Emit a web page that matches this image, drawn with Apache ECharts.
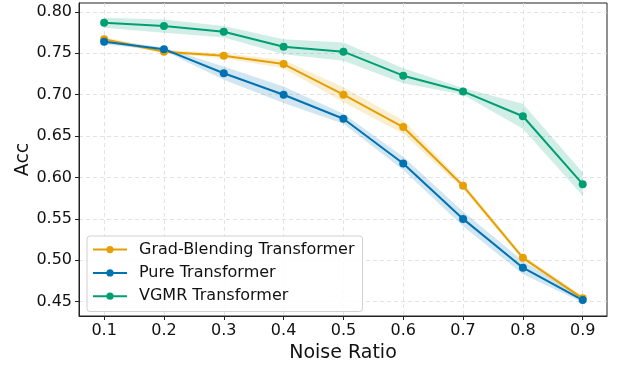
<!DOCTYPE html>
<html>
<head>
<meta charset="utf-8">
<script src="https://cdn.jsdelivr.net/npm/echarts@6/dist/echarts.min.js"></script>
<style>
  html, body { margin: 0; padding: 0; background: #fff; }
  #chart { width: 618px; height: 368px; }
</style>
</head>
<body>
<div id="chart"></div>
<script>
const noiseRatio = [0.1, 0.2, 0.3, 0.4, 0.5, 0.6, 0.7, 0.8, 0.9];
const xTicks = [0.1, 0.2, 0.3, 0.4, 0.5, 0.6, 0.7, 0.8, 0.9];
const yTicks = [0.45, 0.50, 0.55, 0.60, 0.65, 0.70, 0.75, 0.80];

const gradBlending = [0.767, 0.752, 0.747, 0.737, 0.700, 0.661, 0.590, 0.503, 0.454];
const gradBlendingStd = [0.003, 0.002, 0.003, 0.005, 0.009, 0.008, 0.004, 0.003, 0.003];
const pureTrans = [0.764, 0.755, 0.726, 0.700, 0.671, 0.617, 0.550, 0.491, 0.452];
const pureTransStd = [0.003, 0.002, 0.008, 0.010, 0.006, 0.008, 0.009, 0.008, 0.003];
const vgmrTrans = [0.787, 0.783, 0.776, 0.758, 0.752, 0.723, 0.704, 0.674, 0.592];
const vgmrTransStd = [0.006, 0.008, 0.007, 0.009, 0.011, 0.009, 0.004, 0.015, 0.014];

const fontFamily = 'DejaVu Sans';
const orange = '#E69F00';
const blue = '#0072B2';
const green = '#009E73';

var chart = echarts.init(document.getElementById('chart'));

function bandSeries(mean, std, color) {
  return {
    type: 'custom',
    silent: true,
    z: 1,
    data: [0],
    renderItem: function (params, api) {
      const pts = [];
      for (let i = 0; i < noiseRatio.length; i++) {
        pts.push(api.coord([noiseRatio[i], mean[i] + std[i]]));
      }
      for (let i = noiseRatio.length - 1; i >= 0; i--) {
        pts.push(api.coord([noiseRatio[i], mean[i] - std[i]]));
      }
      return {
        type: 'polygon',
        shape: { points: pts },
        style: { fill: color, opacity: 0.18 }
      };
    }
  };
}

function lineSeries(name, mean, color) {
  return {
    name: name,
    type: 'line',
    z: 3,
    data: noiseRatio.map((x, i) => [x, mean[i]]),
    symbol: 'circle',
    symbolSize: 8,
    showAllSymbol: true,
    itemStyle: { color: color },
    lineStyle: { color: color, width: 2 }
  };
}

let option = {
  animation: false,
  backgroundColor: '#fff',
  grid: {
    left: 79,
    right: 11,
    top: 3,
    bottom: 49,
    show: true,
    borderColor: '#222',
    borderWidth: 1
  },
  legend: {
    orient: 'vertical',
    left: 87,
    top: 236,
    itemWidth: 34,
    itemHeight: 9,
    itemGap: 7.3,
    padding: [5.6, 8, 7.3, 5],
    backgroundColor: 'rgba(255,255,255,0.85)',
    borderColor: '#d0d0d0',
    borderWidth: 1,
    borderRadius: 3,
    textStyle: {
      fontFamily: fontFamily,
      fontSize: 16,
      lineHeight: 16,
      color: '#111',
      padding: [0, 0, 0, 7]
    },
    data: ['Grad-Blending Transformer', 'Pure Transformer', 'VGMR Transformer']
  },
  xAxis: {
    type: 'value',
    min: 0.058,
    max: 0.9406,
    name: 'Noise Ratio',
    nameLocation: 'middle',
    nameGap: 28,
    nameMoveOverlap: false,
    nameTextStyle: { fontFamily: fontFamily, fontSize: 19, color: '#111' },
    axisLine: { onZero: false, lineStyle: { color: '#222', width: 1 } },
    axisTick: { show: true, length: 4, customValues: xTicks, lineStyle: { color: '#222' } },
    axisLabel: {
      customValues: xTicks,
      margin: 7,
      fontFamily: fontFamily,
      fontSize: 16,
      color: '#111',
      formatter: v => v.toFixed(1)
    },
    splitLine: { show: true, lineStyle: { color: '#dcdcdc', type: [4, 3], width: 0.8 } }
  },
  yAxis: {
    type: 'value',
    min: 0.4327,
    max: 0.8108,
    name: 'Acc',
    nameLocation: 'middle',
    nameGap: 46,
    nameMoveOverlap: false,
    nameTextStyle: { fontFamily: fontFamily, fontSize: 19, color: '#111' },
    axisLine: { show: true, onZero: false, lineStyle: { color: '#222', width: 1 } },
    axisTick: { show: true, length: 4, customValues: yTicks, lineStyle: { color: '#222' } },
    axisLabel: {
      customValues: yTicks,
      margin: 7,
      fontFamily: fontFamily,
      fontSize: 16,
      color: '#111',
      formatter: v => v.toFixed(2)
    },
    splitLine: { show: true, lineStyle: { color: '#dcdcdc', type: [4, 3], width: 0.8 } }
  },
  series: [
    bandSeries(gradBlending, gradBlendingStd, orange),
    bandSeries(pureTrans, pureTransStd, blue),
    bandSeries(vgmrTrans, vgmrTransStd, green),
    lineSeries('Grad-Blending Transformer', gradBlending, orange),
    lineSeries('Pure Transformer', pureTrans, blue),
    lineSeries('VGMR Transformer', vgmrTrans, green)
  ]
};

chart.setOption(option);
</script>
</body>
</html>
